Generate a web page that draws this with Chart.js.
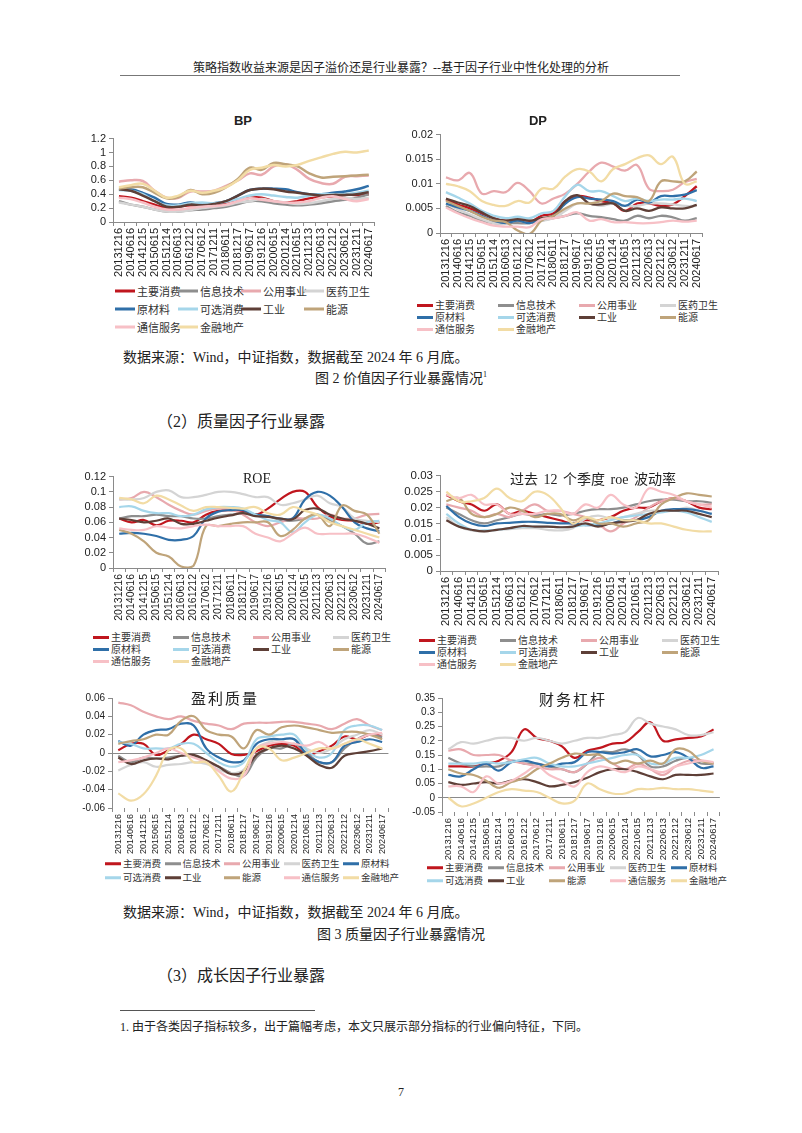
<!DOCTYPE html>
<html>
<head>
<meta charset="utf-8">
<script src="https://cdn.jsdelivr.net/npm/chart.js@4.4.1/dist/chart.umd.min.js"></script>
<style>
  body { margin: 0; background: #fff; }
  #page { position: relative; width: 802px; height: 1133px; overflow: hidden; background: #fff;
          font-family: "Liberation Serif", "Noto Sans CJK SC", serif; color: #222; }
  .txt { position: absolute; white-space: nowrap; line-height: 1; }
  .center { left: 0; width: 802px; text-align: center; }
  canvas { position: absolute; }
  .ttl { position: absolute; white-space: nowrap; line-height: 1; transform: translate(-50%, -50%); color: #222; }
  .lg { position: absolute; white-space: nowrap; display: flex; align-items: center; transform: translateY(-50%);
        font-family: "Noto Sans CJK SC", sans-serif; color: #333; line-height: 1; }
  .lg i { display: inline-block; height: 3px; margin-right: 2px; }
  .rule { position: absolute; height: 1px; background: #777; }
</style>
</head>
<body>
<div id="page">
  <div class="txt center" style="top:62px;font-size:12px;">策略指数收益来源是因子溢价还是行业暴露？--基于因子行业中性化处理的分析</div>
  <div class="rule" style="left:120px;top:75px;width:560px;"></div>

  <canvas id="cBP"></canvas>
  <canvas id="cDP"></canvas>
  <canvas id="cROE"></canvas>
  <canvas id="cVOL"></canvas>
  <canvas id="cEQ"></canvas>
  <canvas id="cLEV"></canvas>

  <div class="ttl" style="left:243px;top:120px;font:bold 13px 'Liberation Sans';">BP</div>
  <div class="ttl" style="left:538px;top:120px;font:bold 13px 'Liberation Sans';">DP</div>
  <div class="ttl" style="left:257px;top:479px;font:14px 'Liberation Serif';">ROE</div>
  <div class="ttl" style="left:593px;top:480px;font-size:14px;font-family:'Liberation Serif','Noto Sans CJK SC';word-spacing:2px;">过去 12 个季度 roe 波动率</div>
  <div class="ttl" style="left:225px;top:697px;font-size:15px;font-family:'Noto Sans CJK SC';letter-spacing:2px;">盈利质量</div>
  <div class="ttl" style="left:573px;top:698px;font-size:15px;font-family:'Noto Sans CJK SC';letter-spacing:2px;">财务杠杆</div>

  <div id="legends"></div>

  <div class="txt" style="left:123px;top:351px;font-size:14px;">数据来源：Wind，中证指数，数据截至 2024 年 6 月底。</div>
  <div class="txt center" style="top:371px;font-size:14px;">图 2  价值因子行业暴露情况<sup style="font-size:8px;">1</sup></div>
  <div class="txt" style="left:157px;top:414px;font-size:16px;">（2）质量因子行业暴露</div>

  <div class="txt" style="left:123px;top:906px;font-size:14px;">数据来源：Wind，中证指数，数据截至 2024 年 6 月底。</div>
  <div class="txt center" style="top:928px;font-size:14px;">图 3  质量因子行业暴露情况</div>
  <div class="txt" style="left:157px;top:968px;font-size:16px;">（3）成长因子行业暴露</div>

  <div class="rule" style="left:120px;top:1010px;width:195px;background:#555;"></div>
  <div class="txt" style="left:120px;top:1021px;font-size:12px;">1. 由于各类因子指标较多，出于篇幅考虑，本文只展示部分指标的行业偏向特征，下同。</div>
  <div class="txt center" style="top:1086px;font-size:12px;">7</div>
</div>

<script>
const dates = ['20131216','20140616','20141215','20150615','20151214','20160613','20161212','20170612',
  '20171211','20180611','20181217','20190617','20191216','20200615','20201214','20210615','20211213',
  '20220613','20221212','20230612','20231211','20240617'];

const industries = ['主要消费','信息技术','公用事业','医药卫生','原材料','可选消费','工业','能源','通信服务','金融地产'];
const colors = ['#C0161E','#8E8E8E','#E8A9AE','#D4D4D4','#2F6FA8','#A5D6EA','#5E3F37','#BFA47A','#F7C0C6','#F2DCA5'];

// BP
const bpValues = [
  [0.37,0.35,0.30,0.25,0.20,0.22,0.24,0.24,0.25,0.27,0.32,0.35,0.35,0.30,0.28,0.30,0.34,0.36,0.37,0.39,0.39,0.40],
  [0.30,0.25,0.22,0.18,0.15,0.15,0.17,0.18,0.20,0.22,0.26,0.30,0.30,0.27,0.25,0.24,0.25,0.27,0.30,0.32,0.35,0.40],
  [0.58,0.60,0.59,0.45,0.35,0.35,0.44,0.44,0.45,0.52,0.60,0.70,0.68,0.80,0.83,0.75,0.62,0.56,0.55,0.65,0.66,0.67],
  [0.28,0.25,0.22,0.18,0.15,0.15,0.17,0.20,0.22,0.24,0.28,0.30,0.33,0.30,0.28,0.26,0.27,0.30,0.33,0.35,0.33,0.35],
  [0.48,0.47,0.42,0.35,0.26,0.25,0.28,0.25,0.27,0.30,0.38,0.46,0.48,0.48,0.47,0.43,0.40,0.40,0.42,0.44,0.47,0.52],
  [0.46,0.45,0.40,0.30,0.24,0.24,0.27,0.28,0.27,0.29,0.33,0.38,0.40,0.38,0.36,0.35,0.38,0.40,0.40,0.40,0.42,0.45],
  [0.47,0.45,0.38,0.30,0.22,0.22,0.25,0.24,0.26,0.30,0.38,0.46,0.48,0.47,0.44,0.42,0.40,0.38,0.39,0.39,0.40,0.43],
  [0.48,0.50,0.50,0.42,0.34,0.36,0.46,0.40,0.42,0.50,0.62,0.78,0.75,0.85,0.83,0.80,0.70,0.64,0.65,0.66,0.67,0.68],
  [0.35,0.33,0.28,0.22,0.18,0.18,0.20,0.22,0.23,0.25,0.30,0.34,0.32,0.30,0.28,0.28,0.30,0.35,0.37,0.33,0.30,0.33],
  [0.50,0.53,0.55,0.45,0.35,0.38,0.45,0.42,0.45,0.50,0.60,0.75,0.78,0.82,0.80,0.82,0.88,0.93,0.98,1.01,1.00,1.03]
];

// DP
const dpValues = [
  [0.0068,0.0058,0.0050,0.0040,0.0030,0.0025,0.0025,0.0022,0.0035,0.0040,0.0065,0.0075,0.0072,0.0065,0.0060,0.0045,0.0060,0.0060,0.0055,0.0058,0.0075,0.0095],
  [0.0055,0.0042,0.0035,0.0025,0.0020,0.0020,0.0020,0.0020,0.0025,0.0030,0.0035,0.0040,0.0035,0.0032,0.0028,0.0025,0.0035,0.0030,0.0035,0.0032,0.0025,0.0030],
  [0.0113,0.0107,0.0122,0.0080,0.0085,0.0083,0.0102,0.0085,0.0060,0.0070,0.0080,0.0100,0.0125,0.0143,0.0135,0.0127,0.0138,0.0090,0.0085,0.0088,0.0103,0.0110],
  [0.0060,0.0048,0.0038,0.0028,0.0020,0.0020,0.0025,0.0020,0.0025,0.0030,0.0045,0.0060,0.0060,0.0055,0.0060,0.0055,0.0055,0.0060,0.0060,0.0058,0.0055,0.0055],
  [0.0060,0.0052,0.0045,0.0035,0.0025,0.0020,0.0025,0.0020,0.0028,0.0035,0.0060,0.0073,0.0070,0.0068,0.0065,0.0055,0.0068,0.0062,0.0075,0.0075,0.0078,0.0087],
  [0.0083,0.0072,0.0060,0.0045,0.0035,0.0030,0.0033,0.0030,0.0040,0.0045,0.0075,0.0098,0.0085,0.0085,0.0075,0.0065,0.0070,0.0065,0.0068,0.0068,0.0070,0.0065],
  [0.0070,0.0062,0.0055,0.0042,0.0030,0.0025,0.0028,0.0025,0.0030,0.0035,0.0065,0.0077,0.0060,0.0058,0.0060,0.0045,0.0050,0.0045,0.0052,0.0050,0.0050,0.0057],
  [0.0065,0.0055,0.0045,0.0033,0.0025,0.0022,0.0005,-0.0002,0.0025,0.0035,0.0050,0.0060,0.0060,0.0065,0.0080,0.0075,0.0073,0.0065,0.0105,0.0105,0.0105,0.0125],
  [0.0052,0.0040,0.0030,0.0022,0.0015,0.0013,0.0013,0.0012,0.0028,0.0030,0.0035,0.0042,0.0025,0.0028,0.0022,0.0022,0.0020,0.0020,0.0022,0.0025,0.0023,0.0025],
  [0.0100,0.0095,0.0085,0.0065,0.0057,0.0055,0.0065,0.0062,0.0090,0.0090,0.0115,0.0130,0.0125,0.0105,0.0130,0.0140,0.0152,0.0158,0.0140,0.0155,0.0100,0.0105]
];

// ROE
const roeValues = [
  [0.065,0.060,0.063,0.056,0.062,0.062,0.060,0.070,0.075,0.076,0.075,0.070,0.078,0.090,0.100,0.100,0.080,0.068,0.063,0.062,0.058,0.060],
  [0.065,0.068,0.068,0.070,0.068,0.068,0.065,0.065,0.068,0.070,0.072,0.070,0.068,0.063,0.062,0.065,0.070,0.063,0.055,0.045,0.032,0.035],
  [0.090,0.092,0.100,0.093,0.083,0.075,0.070,0.075,0.078,0.077,0.070,0.060,0.055,0.060,0.065,0.065,0.065,0.070,0.065,0.065,0.070,0.071],
  [0.090,0.090,0.092,0.100,0.102,0.093,0.093,0.096,0.100,0.100,0.097,0.093,0.093,0.083,0.085,0.090,0.095,0.085,0.080,0.065,0.062,0.060],
  [0.045,0.046,0.045,0.042,0.037,0.037,0.042,0.065,0.074,0.076,0.076,0.070,0.068,0.065,0.065,0.090,0.100,0.095,0.080,0.060,0.052,0.048],
  [0.080,0.081,0.075,0.072,0.072,0.068,0.070,0.077,0.080,0.080,0.078,0.070,0.063,0.060,0.047,0.060,0.070,0.065,0.055,0.050,0.060,0.062],
  [0.065,0.063,0.060,0.062,0.065,0.058,0.058,0.062,0.066,0.069,0.072,0.068,0.067,0.065,0.064,0.076,0.078,0.070,0.065,0.062,0.058,0.052],
  [0.050,0.045,0.035,0.020,0.015,0.002,0.003,0.055,0.055,0.058,0.060,0.060,0.060,0.042,0.050,0.065,0.070,0.055,0.082,0.075,0.070,0.045],
  [0.052,0.050,0.050,0.055,0.053,0.052,0.055,0.057,0.055,0.055,0.055,0.045,0.040,0.035,0.045,0.053,0.045,0.045,0.045,0.045,0.040,0.033],
  [0.092,0.090,0.085,0.095,0.090,0.082,0.075,0.080,0.080,0.079,0.078,0.080,0.072,0.070,0.080,0.075,0.070,0.060,0.055,0.050,0.045,0.040]
];

// 过去12个季度roe波动率
const volValues = [
  [0.0240,0.0220,0.0210,0.0190,0.0210,0.0180,0.0190,0.0180,0.0170,0.0160,0.0150,0.0160,0.0160,0.0170,0.0190,0.0200,0.0200,0.0220,0.0230,0.0220,0.0200,0.0195],
  [0.0200,0.0180,0.0160,0.0150,0.0160,0.0170,0.0180,0.0175,0.0180,0.0175,0.0180,0.0190,0.0195,0.0195,0.0200,0.0210,0.0220,0.0225,0.0225,0.0220,0.0220,0.0215],
  [0.0210,0.0200,0.0190,0.0170,0.0180,0.0170,0.0190,0.0210,0.0190,0.0190,0.0180,0.0170,0.0150,0.0125,0.0150,0.0170,0.0200,0.0220,0.0230,0.0220,0.0210,0.0210],
  [0.0170,0.0140,0.0128,0.0125,0.0130,0.0132,0.0135,0.0135,0.0130,0.0128,0.0135,0.0165,0.0175,0.0165,0.0170,0.0180,0.0190,0.0190,0.0190,0.0200,0.0190,0.0180],
  [0.0205,0.0170,0.0150,0.0142,0.0150,0.0152,0.0155,0.0155,0.0152,0.0150,0.0150,0.0145,0.0145,0.0150,0.0160,0.0160,0.0170,0.0190,0.0195,0.0195,0.0190,0.0180],
  [0.0180,0.0150,0.0130,0.0128,0.0130,0.0135,0.0140,0.0140,0.0140,0.0138,0.0140,0.0145,0.0150,0.0160,0.0170,0.0175,0.0180,0.0185,0.0190,0.0185,0.0170,0.0155],
  [0.0160,0.0140,0.0130,0.0125,0.0130,0.0135,0.0142,0.0140,0.0140,0.0138,0.0140,0.0150,0.0140,0.0150,0.0155,0.0160,0.0180,0.0190,0.0190,0.0190,0.0180,0.0170],
  [0.0220,0.0230,0.0180,0.0170,0.0180,0.0200,0.0190,0.0170,0.0180,0.0180,0.0160,0.0170,0.0150,0.0150,0.0140,0.0150,0.0160,0.0210,0.0230,0.0245,0.0240,0.0235],
  [0.0240,0.0230,0.0240,0.0210,0.0210,0.0180,0.0180,0.0180,0.0190,0.0190,0.0180,0.0210,0.0200,0.0240,0.0210,0.0200,0.0260,0.0250,0.0240,0.0220,0.0210,0.0200],
  [0.0250,0.0220,0.0220,0.0230,0.0260,0.0230,0.0220,0.0250,0.0240,0.0200,0.0150,0.0170,0.0160,0.0170,0.0160,0.0160,0.0150,0.0150,0.0140,0.0130,0.0125,0.0125]
];

// 盈利质量
const eqValues = [
  [0.003,0.010,0.010,-0.002,0.003,0.010,0.020,0.015,0.010,-0.001,-0.002,0.002,0.008,0.010,0.008,-0.002,0.002,0.008,0.018,0.015,0.020,0.020],
  [-0.003,-0.010,-0.005,-0.006,-0.005,-0.003,-0.003,-0.010,-0.015,-0.022,-0.025,-0.005,0.005,0.005,0.010,0.000,-0.010,-0.010,0.005,0.015,0.020,0.017],
  [0.055,0.052,0.045,0.040,0.037,0.040,0.035,0.032,0.030,0.026,0.032,0.033,0.033,0.034,0.034,0.032,0.030,0.026,0.032,0.037,0.030,0.025],
  [-0.019,-0.013,-0.010,-0.015,-0.013,-0.012,-0.010,-0.012,-0.018,-0.022,-0.018,0.005,0.012,0.015,0.015,0.005,0.000,0.005,0.015,0.020,0.025,0.020],
  [0.013,0.008,0.020,0.025,0.026,0.032,0.030,0.005,-0.005,-0.010,-0.008,0.010,0.015,0.015,0.015,-0.002,-0.010,-0.010,0.008,0.012,0.015,0.012],
  [0.012,0.010,0.005,0.005,0.005,0.010,0.010,0.000,-0.010,-0.015,-0.010,0.015,0.018,0.020,0.020,0.003,-0.005,0.000,0.025,0.030,0.030,0.025],
  [-0.005,-0.012,-0.008,-0.006,-0.007,-0.003,-0.002,-0.008,-0.015,-0.023,-0.020,-0.002,0.005,0.008,0.005,-0.003,-0.013,-0.016,-0.003,0.000,0.002,0.005],
  [0.010,0.013,0.015,0.020,0.020,0.035,0.040,0.025,0.020,0.018,0.005,0.025,0.020,0.028,0.030,0.028,0.025,0.022,0.023,0.023,0.020,0.015],
  [-0.010,-0.008,-0.005,0.000,0.005,0.000,-0.005,-0.010,-0.020,-0.028,-0.025,0.005,0.010,0.012,0.010,0.008,0.012,0.005,0.010,0.015,0.020,0.022],
  [-0.044,-0.052,-0.045,-0.025,0.003,0.005,-0.010,-0.010,-0.025,-0.042,-0.020,0.005,0.005,-0.008,-0.005,0.000,0.005,0.005,0.010,0.015,0.010,0.005]
];

// 财务杠杆
const levValues = [
  [0.110,0.110,0.110,0.120,0.130,0.160,0.240,0.210,0.200,0.180,0.140,0.165,0.175,0.190,0.195,0.230,0.265,0.200,0.205,0.210,0.215,0.240],
  [0.140,0.120,0.110,0.110,0.110,0.130,0.120,0.120,0.110,0.100,0.090,0.120,0.160,0.160,0.170,0.150,0.110,0.110,0.130,0.140,0.120,0.120],
  [0.165,0.170,0.150,0.150,0.150,0.130,0.120,0.110,0.100,0.100,0.090,0.120,0.140,0.120,0.100,0.120,0.100,0.080,0.110,0.130,0.130,0.120],
  [0.170,0.195,0.190,0.200,0.210,0.210,0.200,0.210,0.200,0.190,0.200,0.210,0.210,0.220,0.230,0.280,0.260,0.250,0.240,0.220,0.220,0.230],
  [0.080,0.075,0.100,0.120,0.095,0.125,0.130,0.120,0.110,0.120,0.125,0.160,0.160,0.155,0.160,0.170,0.145,0.150,0.160,0.140,0.105,0.110],
  [0.120,0.120,0.120,0.125,0.120,0.125,0.135,0.140,0.120,0.110,0.110,0.120,0.130,0.140,0.150,0.150,0.120,0.120,0.140,0.140,0.150,0.170],
  [0.055,0.045,0.050,0.055,0.050,0.060,0.065,0.055,0.040,0.045,0.055,0.070,0.090,0.100,0.100,0.090,0.075,0.065,0.080,0.080,0.080,0.085],
  [0.100,0.085,0.080,0.060,0.035,0.055,0.070,0.100,0.120,0.140,0.155,0.150,0.150,0.120,0.130,0.120,0.130,0.120,0.170,0.165,0.130,0.120],
  [0.040,0.040,0.020,0.075,0.050,0.060,0.085,0.110,0.080,0.060,0.040,0.090,0.110,0.100,0.090,0.110,0.100,0.090,0.110,0.120,0.130,0.125],
  [0.000,-0.030,-0.020,0.000,0.020,0.030,0.025,0.020,0.000,-0.020,-0.010,0.050,0.030,0.015,0.015,0.030,0.030,0.035,0.030,0.030,0.025,0.020]
];

const axisColor = '#8a8a8a';

function fmt(v) {
  return String(+v.toFixed(4));
}

function makeChart(id, values, c) {
  const cv = document.getElementById(id);
  cv.width = c.w; cv.height = c.h;
  cv.style.left = c.x + 'px'; cv.style.top = c.y + 'px';
  cv.style.width = c.w + 'px'; cv.style.height = c.h + 'px';

  const datasets = industries.map((name, i) => ({
    label: name,
    data: values[i],
    borderColor: colors[i],
    backgroundColor: colors[i],
    borderWidth: c.lw,
    pointRadius: 0,
    tension: 0.4,
    fill: false,
    order: industries.length - i
  }));

  const chart = new Chart(cv, {
    type: 'line',
    data: { labels: dates, datasets },
    options: {
      responsive: false,
      animation: false,
      layout: { autoPadding: false, padding: { top: 8, right: 2, left: 0, bottom: 0 } },
      plugins: { legend: { display: false }, tooltip: { enabled: false } },
      scales: {
        x: {
          offset: true,
          grid: { offset: true, drawOnChartArea: false, tickLength: 4, color: axisColor },
          border: { display: !c.zero, color: axisColor },
          ticks: { autoSkip: false, minRotation: 90, maxRotation: 90, padding: 2, color: '#222',
                   font: { family: 'Liberation Sans', size: c.xfs } },
          afterFit: s => { s.height = c.xh; }
        },
        y: {
          min: c.min, max: c.max,
          grid: {
            drawOnChartArea: !!c.zero,
            color: ctx => (Math.abs(ctx.tick.value) < 1e-9 ? axisColor : 'rgba(0,0,0,0)'),
            tickColor: axisColor, tickLength: 4
          },
          border: { color: axisColor },
          ticks: { stepSize: c.step, autoSkip: false, padding: 3, color: '#222', callback: v => fmt(v),
                   font: { family: 'Liberation Sans', size: c.yfs } },
          afterFit: s => { s.width = c.yw; }
        }
      }
    }
  });

  // legend built from the chart's datasets
  const box = document.getElementById('legends');
  chart.data.datasets.forEach((ds, i) => {
    const it = document.createElement('div');
    it.className = 'lg';
    it.style.left = (c.lgX + (i % c.lgCols) * c.lgW) + 'px';
    it.style.top = (c.lgY + Math.floor(i / c.lgCols) * c.lgH) + 'px';
    it.style.fontSize = c.lgFs + 'px';
    it.innerHTML = '<i style="width:' + c.lgLine + 'px;background:' + ds.borderColor + '"></i>' + ds.label;
    box.appendChild(it);
  });
  return chart;
}

makeChart('cBP', bpValues, { x: 78, y: 129, w: 306, h: 149, yw: 35, xh: 56, min: 0, max: 1.2, step: 0.2,
  xfs: 11, yfs: 11, lw: 2.5, lgX: 115, lgY: 291, lgW: 63, lgH: 18, lgCols: 4, lgFs: 11, lgLine: 20 });
makeChart('cDP', dpValues, { x: 395, y: 125, w: 317, h: 164, yw: 45, xh: 56, min: 0, max: 0.02, step: 0.005,
  xfs: 11, yfs: 11, lw: 2.3, lgX: 417, lgY: 305, lgW: 81, lgH: 12, lgCols: 4, lgFs: 10, lgLine: 16 });
makeChart('cROE', roeValues, { x: 78, y: 467, w: 316, h: 157, yw: 35, xh: 56, min: 0, max: 0.12, step: 0.02,
  xfs: 10.5, yfs: 11, lw: 2.2, lgX: 93, lgY: 637, lgW: 80, lgH: 12, lgCols: 4, lgFs: 10, lgLine: 16 });
makeChart('cVOL', volValues, { x: 395, y: 466, w: 332, h: 161, yw: 45, xh: 56, min: 0, max: 0.03, step: 0.005,
  xfs: 11, yfs: 11.5, lw: 2.2, lgX: 419, lgY: 640, lgW: 81, lgH: 12, lgCols: 4, lgFs: 10, lgLine: 16 });
makeChart('cEQ', eqValues, { x: 72, y: 689, w: 323, h: 167, yw: 40, xh: 48, min: -0.06, max: 0.06, step: 0.02, zero: true,
  xfs: 9, yfs: 10, lw: 2.2, lgX: 105, lgY: 864, lgW: 59.5, lgH: 14, lgCols: 5, lgFs: 9.5, lgLine: 16 });
makeChart('cLEV', levValues, { x: 397, y: 689, w: 330, h: 171, yw: 45, xh: 48, min: -0.05, max: 0.35, step: 0.05, zero: true,
  xfs: 9.5, yfs: 10, lw: 2.2, lgX: 427, lgY: 868, lgW: 61, lgH: 13, lgCols: 5, lgFs: 9.5, lgLine: 16 });
</script>
</body>
</html>
